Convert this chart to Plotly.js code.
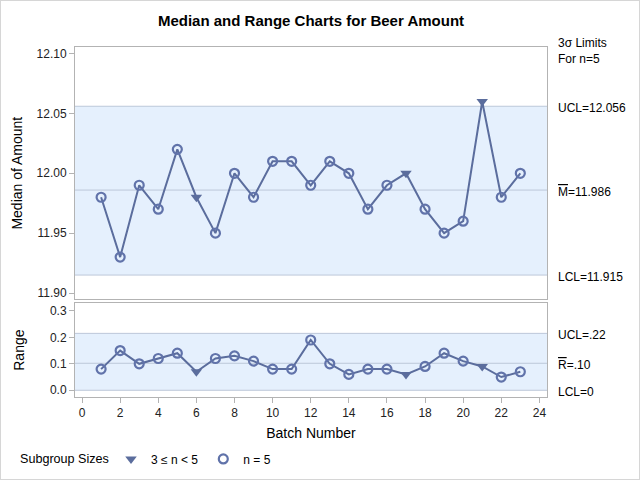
<!DOCTYPE html>
<html>
<head>
<meta charset="utf-8">
<script src="https://cdn.plot.ly/plotly-3.0.1.min.js"></script>
<style>
  html, body { margin: 0; padding: 0; background: #fff; }
  #wrap { position: relative; width: 640px; height: 480px; }
  #chart { width: 640px; height: 480px; }
  #frame { position: absolute; left: 0; top: 0; width: 638px; height: 478px; border: 1px solid #d6d6d6; pointer-events: none; }
</style>
</head>
<body>
<div id="wrap"><div id="chart"></div><div id="frame"></div></div>
<script>
// ---- data ----
const batches = [1, 2, 3, 4, 5, 6, 7, 8, 9, 10, 11, 12, 13, 14, 15, 16, 17, 18, 19, 20, 21, 22, 23];
const medians = [11.98, 11.93, 11.99, 11.97, 12.02, 11.98, 11.95, 12.00, 11.98, 12.01, 12.01, 11.99,
                 12.01, 12.00, 11.97, 11.99, 12.00, 11.97, 11.95, 11.96, 12.06, 11.98, 12.00];
const ranges  = [0.08, 0.15, 0.10, 0.12, 0.14, 0.07, 0.12, 0.13, 0.11, 0.08, 0.08, 0.19,
                 0.10, 0.06, 0.08, 0.08, 0.06, 0.09, 0.14, 0.11, 0.09, 0.05, 0.07];
const smallBatches = [6, 17, 21];              // subgroups with 3 <= n < 5
const medianLimits = [11.915, 11.986, 12.056]; // LCL, center, UCL
const rangeLimits  = [0, 0.102, 0.215];        // LCL, center, UCL
const medianLabels = ['LCL=11.915', '<span style="text-decoration:overline">M</span>=11.986', 'UCL=12.056'];
const rangeLabels  = ['LCL=0', '<span style="text-decoration:overline">R</span>=.10', 'UCL=.22'];
const legendNames  = ['3 \u2264 n < 5', 'n = 5'];
const legendTitle  = 'Subgroup Sizes';
const xTicks = [0, 2, 4, 6, 8, 10, 12, 14, 16, 18, 20, 22, 24];

// ---- styles ----
const FONT = 'Liberation Sans, Arial, sans-serif';
const lineCol = '#5b6d9d';
const markCol = '#6173aa';
const frameCol = '#b3b3b3';
const bandFill = '#e5f0fd';
const limitCol = '#bcc7d9';

const isSmall = b => smallBatches.includes(b);
function pick(arr, cond) { return batches.map((b, i) => cond(b) ? arr[i] : null).filter(v => v !== null); }
const bSmall = batches.filter(b => isSmall(b));
const bFull  = batches.filter(b => !isSmall(b));

const traces = [];
[[medians, 'x', 'y', true], [ranges, 'x2', 'y2', false]].forEach(([vals, xa, ya, leg]) => {
  traces.push({ x: batches, y: vals, xaxis: xa, yaxis: ya, type: 'scatter', mode: 'lines',
    line: { color: lineCol, width: 2 }, showlegend: false, hoverinfo: 'skip' });
  traces.push({ x: bSmall, y: pick(vals, isSmall), xaxis: xa, yaxis: ya, type: 'scatter', mode: 'markers',
    name: legendNames[0], legendgroup: 'small', showlegend: leg,
    marker: { symbol: 'triangle-down', size: 10, color: lineCol } });
  traces.push({ x: bFull, y: pick(vals, b => !isSmall(b)), xaxis: xa, yaxis: ya, type: 'scatter', mode: 'markers',
    name: legendNames[1], legendgroup: 'full', showlegend: leg,
    marker: { symbol: 'circle-open', size: 9, color: markCol, line: { width: 2.2, color: markCol } } });
});

const shapes = [];
const annotations = [];
[[medianLimits, medianLabels, 'y'], [rangeLimits, rangeLabels, 'y2']].forEach(([lim, labs, ya]) => {
  const xr = ya === 'y' ? 'x domain' : 'x2 domain';
  shapes.push({ type: 'rect', xref: xr, yref: ya, x0: 0, x1: 1, y0: lim[0], y1: lim[2],
    fillcolor: bandFill, line: { width: 0 }, layer: 'below' });
  lim.forEach((v, i) => {
    shapes.push({ type: 'line', xref: xr, yref: ya, x0: 0, x1: 1, y0: v, y1: v,
      line: { color: limitCol, width: 1 }, layer: 'below' });
    annotations.push({ xref: 'paper', yref: ya, x: 1.019, y: v, xanchor: 'left', yanchor: 'middle',
      yshift: -2, text: labs[i], showarrow: false, font: { family: FONT, size: 12, color: '#000' } });
  });
});
annotations.push({ xref: 'paper', yref: 'paper', x: 1.019, y: 0.99, xanchor: 'left', yanchor: 'middle',
  align: 'left', text: '3\u03c3 Limits<br>For n=5', showarrow: false, font: { family: FONT, size: 12, color: '#000' } });
annotations.push({ xref: 'paper', yref: 'paper', x: -0.1208, y: -0.177, xanchor: 'left', yanchor: 'middle',
  text: legendTitle, showarrow: false, font: { family: FONT, size: 12.6, color: '#000' } });

const axisCommon = {
  showline: true, mirror: true, linecolor: frameCol, linewidth: 1,
  showgrid: false, zeroline: false, ticks: 'outside', ticklen: 5, tickcolor: frameCol,
  tickfont: { family: FONT, size: 12, color: '#222' }, fixedrange: true
};

const layout = {
  width: 640, height: 480,
  margin: { l: 75, r: 93, t: 47, b: 83, autoexpand: false },
  paper_bgcolor: '#fff', plot_bgcolor: '#fff',
  font: { family: FONT, size: 12, color: '#000' },
  title: { text: '<b>Median and Range Charts for Beer Amount</b>', font: { family: FONT, size: 15, color: '#000' },
           x: 0.5, xref: 'paper', y: 1 - 21 / 480, yref: 'container', yanchor: 'middle' },
  xaxis: Object.assign({}, axisCommon, { range: [-0.37, 24.4], anchor: 'y', showticklabels: false, ticks: '' }),
  yaxis: Object.assign({}, axisCommon, { domain: [0.279, 1], range: [11.8947, 12.1055], anchor: 'x',
    tickvals: [11.90, 11.95, 12.00, 12.05, 12.10], tickformat: '.2f',
    title: { text: 'Median of Amount', font: { family: FONT, size: 14, color: '#000' }, standoff: 10 } }),
  xaxis2: Object.assign({}, axisCommon, { range: [-0.37, 24.4], anchor: 'y2', tickvals: xTicks,
    title: { text: 'Batch Number', font: { family: FONT, size: 14, color: '#000' }, standoff: 8 } }),
  yaxis2: Object.assign({}, axisCommon, { domain: [0, 0.268], range: [-0.0254, 0.329], anchor: 'x2',
    tickvals: [0, 0.1, 0.2, 0.3], tickformat: '.1f',
    title: { text: 'Range', font: { family: FONT, size: 14, color: '#000' }, standoff: 22 } }),
  shapes: shapes,
  annotations: annotations,
  showlegend: true,
  legend: {
    orientation: 'h', x: 0.0763, xanchor: 'left', y: -0.177, yanchor: 'middle',
    font: { family: FONT, size: 12, color: '#000' }, bgcolor: 'rgba(0,0,0,0)',
    itemwidth: 30, traceorder: 'normal'
  },
  hovermode: false
};

Plotly.newPlot('chart', traces, layout, { displayModeBar: false, staticPlot: true });
</script>
</body>
</html>
